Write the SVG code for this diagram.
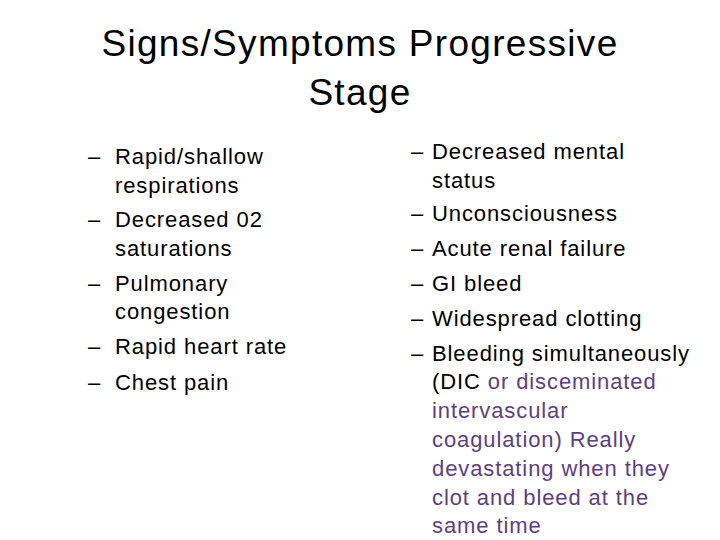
<svg xmlns="http://www.w3.org/2000/svg" width="720" height="540" viewBox="0 0 720 540">
<style>
text{font-family:"Liberation Sans",Arial,sans-serif;fill:#000}
.t{font-size:37px;letter-spacing:1.3px}
.b{font-size:22px;letter-spacing:0.9px}
.p{fill:#5e3f7e}
</style>
<rect width="720" height="540" fill="#fff"/>
<g id="title">
<text class="t" x="360" y="56" text-anchor="middle">Signs/Symptoms Progressive</text>
<text class="t" x="360" y="105" text-anchor="middle">Stage</text>
</g>
<g id="left">
<text class="b" x="88" y="164">–</text><text class="b" x="115" y="164">Rapid/shallow</text>
<text class="b" x="115" y="193">respirations</text>
<text class="b" x="88" y="227">–</text><text class="b" x="115" y="227">Decreased 02</text>
<text class="b" x="115" y="256">saturations</text>
<text class="b" x="88" y="291">–</text><text class="b" x="115" y="291">Pulmonary</text>
<text class="b" x="115" y="319">congestion</text>
<text class="b" x="88" y="354">–</text><text class="b" x="115" y="354">Rapid heart rate</text>
<text class="b" x="88" y="390">–</text><text class="b" x="115" y="390">Chest pain</text>
</g>
<g id="right">
<text class="b" x="411" y="159">–</text><text class="b" x="432" y="159">Decreased mental</text>
<text class="b" x="432" y="188">status</text>
<text class="b" x="411" y="221">–</text><text class="b" x="432" y="221">Unconsciousness</text>
<text class="b" x="411" y="256">–</text><text class="b" x="432" y="256">Acute renal failure</text>
<text class="b" x="411" y="291">–</text><text class="b" x="432" y="291">GI bleed</text>
<text class="b" x="411" y="326">–</text><text class="b" x="432" y="326">Widespread clotting</text>
<text class="b" x="411" y="361">–</text><text class="b" x="432" y="361">Bleeding simultaneously</text>
<text class="b" x="432" y="389">(DIC <tspan class="p">or disceminated</tspan></text>
<text class="b p" x="432" y="418">intervascular</text>
<text class="b p" x="432" y="447">coagulation) Really</text>
<text class="b p" x="432" y="476">devastating when they</text>
<text class="b p" x="432" y="505">clot and bleed at the</text>
<text class="b p" x="432" y="533">same time</text>
</g>
</svg>
